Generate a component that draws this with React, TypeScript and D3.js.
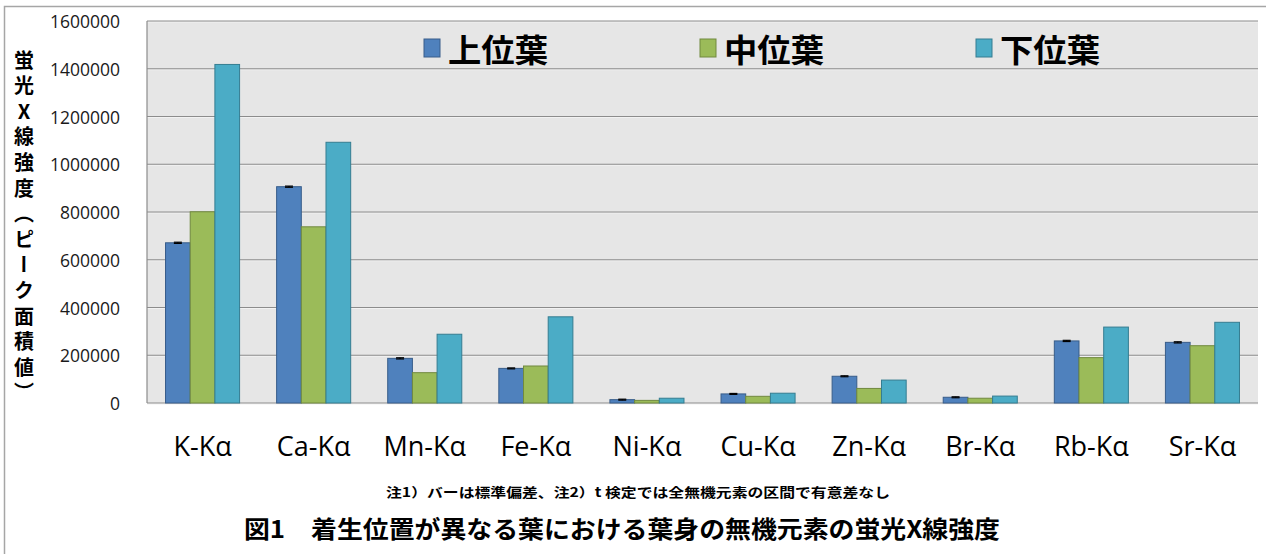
import React from 'react';
import * as d3 from 'd3';

const categories = ['K-Kα', 'Ca-Kα', 'Mn-Kα', 'Fe-Kα', 'Ni-Kα', 'Cu-Kα', 'Zn-Kα', 'Br-Kα', 'Rb-Kα', 'Sr-Kα'];
const seriesNames = ['上位葉', '中位葉', '下位葉'];
const upper = [671000, 906000, 187000, 145000, 14000, 38000, 112000, 24000, 260000, 254000];
const middle = [801000, 738000, 127000, 155000, 11000, 28000, 61000, 20000, 190000, 240000];
const lower = [1418000, 1092000, 288000, 361000, 20000, 41000, 96000, 29000, 318000, 338000];
const upperErr = [2500, 2500, 2500, 2000, 2000, 2000, 2000, 2000, 2500, 2500];
const yTicks = [0, 200000, 400000, 600000, 800000, 1000000, 1200000, 1400000, 1600000];
const yTitle = '蛍光X線強度（ピーク面積値）';
const note = '注1）バーは標準偏差、注2）t 検定では全無機元素の区間で有意差なし';
const title = '図1　着生位置が異なる葉における葉身の無機元素の蛍光X線強度';

const fills = ['#4F81BD', '#9BBB59', '#4BACC6'];
const strokes = ['#385D8A', '#71893F', '#357D91'];

const W = 1266;
const H = 554;
const plot = { left: 147, right: 1258, top: 21, bottom: 403 };
const latin = '"Open Sans", "Noto Sans", sans-serif';
const cjk = '"Noto Sans CJK JP", sans-serif';

export default function App() {
  const series = [upper, middle, lower];
  const x = d3
    .scaleBand<string>()
    .domain(categories)
    .range([plot.left, plot.right])
    .paddingInner(1 / 3)
    .paddingOuter(1 / 6);
  const xs = d3
    .scaleBand<string>()
    .domain(seriesNames)
    .range([0, x.bandwidth()])
    .padding(0);
  const y = d3.scaleLinear().domain([0, 1600000]).range([plot.bottom, plot.top]);

  return (
    <svg
      width={W}
      height={H}
      style={{ position: 'absolute', left: 0, top: 0, background: '#fff' }}
    >
      {/* outer frame */}
      <path d={`M4.5,${H} V6.5 H${W}`} fill="none" stroke="#a6a6a6" strokeWidth={1.5} />

      {/* plot area */}
      <rect
        x={plot.left}
        y={plot.top}
        width={plot.right - plot.left}
        height={plot.bottom - plot.top}
        fill="#e6e6e6"
      />
      {yTicks.map(t => (
        <g key={t}>
          <line x1={plot.left} x2={plot.right} y1={y(t) + 1} y2={y(t) + 1} stroke="#f2f2f2" />
          <line x1={plot.left} x2={plot.right} y1={y(t)} y2={y(t)} stroke="#8c8c8c" strokeWidth={1.2} />
          <text
            x={120}
            y={y(t)}
            textAnchor="end"
            dominantBaseline="central"
            fontFamily={latin}
            fontSize={17.5}
            fill="#1a1a1a"
          >
            {t}
          </text>
        </g>
      ))}
      <line x1={plot.left} x2={plot.left} y1={plot.top} y2={plot.bottom} stroke="#8c8c8c" strokeWidth={1.2} />

      {/* bars */}
      {series.map((vals, si) =>
        vals.map((v, ci) => {
          const bx = (x(categories[ci]) as number) + (xs(seriesNames[si]) as number);
          return (
            <rect
              key={`${si}-${ci}`}
              x={bx}
              y={y(v)}
              width={xs.bandwidth()}
              height={y(0) - y(v)}
              fill={fills[si]}
              stroke={strokes[si]}
              strokeWidth={1}
            />
          );
        })
      )}

      {/* error bars on 上位葉 */}
      {upper.map((v, ci) => {
        const cx = (x(categories[ci]) as number) + (xs(seriesNames[0]) as number) + xs.bandwidth() / 2;
        const e = upperErr[ci];
        return (
          <g key={`e${ci}`} stroke="#000" strokeWidth={1.2}>
            <line x1={cx} x2={cx} y1={y(v + e)} y2={y(v - e)} />
            <line x1={cx - 4} x2={cx + 4} y1={y(v + e)} y2={y(v + e)} />
            <line x1={cx - 4} x2={cx + 4} y1={y(v - e)} y2={y(v - e)} />
          </g>
        );
      })}

      {/* x labels */}
      {categories.map(c => (
        <text
          key={c}
          x={(x(c) as number) + x.bandwidth() / 2}
          y={456}
          textAnchor="middle"
          fontFamily={latin}
          fontSize={27}
          fill="#000"
        >
          {c}
        </text>
      ))}

      {/* y title, vertical writing */}
      <text
        x={24}
        y={50}
        style={{ writingMode: 'vertical-rl', textOrientation: 'upright' } as React.CSSProperties}
        fontFamily={cjk}
        fontWeight="bold"
        fontSize={20}
        letterSpacing={5.6}
        fill="#000"
      >
        {yTitle}
      </text>

      {/* legend */}
      {seriesNames.map((name, i) => {
        const lx = 424 + i * 276;
        return (
          <g key={name}>
            <rect x={lx} y={39} width={16} height={18} fill={fills[i]} stroke={strokes[i]} strokeWidth={1} />
            <text
              x={lx + 24}
              y={48}
              dominantBaseline="central"
              fontFamily={cjk}
              fontWeight="bold"
              fontSize={32}
              textLength={100}
              lengthAdjust="spacingAndGlyphs"
              fill="#000"
            >
              {name}
            </text>
          </g>
        );
      })}

      {/* note & caption */}
      <text
        x={386}
        y={491}
        dominantBaseline="central"
        fontFamily={cjk}
        fontWeight="bold"
        fontSize={13}
        textLength={504}
        lengthAdjust="spacingAndGlyphs"
        fill="#000"
      >
        {note}
      </text>
      <text
        x={244}
        y={527}
        dominantBaseline="central"
        fontFamily={cjk}
        fontWeight="bold"
        fontSize={24}
        textLength={756}
        lengthAdjust="spacingAndGlyphs"
        fill="#000"
      >
        {title}
      </text>
    </svg>
  );
}
